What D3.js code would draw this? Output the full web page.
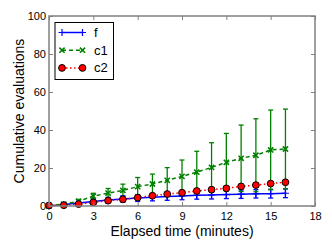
<!DOCTYPE html>
<html>
<head>
<meta charset="utf-8">
<script src="https://cdn.jsdelivr.net/npm/d3@7"></script>
<style>
  body { margin: 0; background: #fff; }
  text { font-family: "Liberation Sans", Arial, sans-serif; fill: #000; }
</style>
</head>
<body>
<div id="chart"></div>
<script>
// elapsed minutes
let minutes = [0, 1, 2, 3, 4, 5, 6, 7, 8, 9, 10, 11, 12, 13, 14, 15, 16];
// series means and error half-widths
let f_mean = [0, 0.8, 1.6, 2.4, 3.1, 3.7, 4.2, 4.6, 5.0, 5.3, 5.6, 5.8, 6.0, 6.2, 6.4, 6.5, 6.7];
let f_err = [0, 0.6, 1.0, 1.3, 1.5, 1.7, 1.8, 1.9, 2.0, 2.0, 2.0, 2.1, 2.1, 2.2, 2.2, 2.3, 2.3];
let c1_mean = [0, 1.0, 2.5, 5.2, 6.8, 8.2, 10.2, 11.6, 13.5, 15.6, 17.8, 20.3, 23.0, 25.1, 26.7, 29.5, 30.0];
let c1_err = [0, 0.5, 1.0, 1.5, 2.4, 3.3, 4.8, 5.2, 6.7, 8.6, 11.0, 13.0, 15.2, 17.5, 19.2, 21.0, 21.0];
let c2_mean = [0.3, 0.4, 1.0, 1.9, 2.8, 3.5, 4.4, 5.4, 6.3, 7.0, 7.9, 8.6, 9.3, 10.3, 11.0, 11.8, 12.5];
let c2_err = [0, 0.2, 0.3, 0.4, 0.5, 0.5, 0.6, 0.6, 0.7, 0.7, 0.8, 0.8, 0.9, 0.9, 1.0, 1.0, 1.1];
let x_ticks = [0, 3, 6, 9, 12, 15, 18];
let y_ticks = [0, 20, 40, 60, 80, 100];

let chart_width = 332;
let chart_height = 249;
let margin = { top: 16, right: 17, bottom: 43, left: 49 };
let w = chart_width - margin.left - margin.right;
let h = chart_height - margin.top - margin.bottom;

let svg = d3.select("#chart").append("svg")
  .attr("width", chart_width)
  .attr("height", chart_height);

let g = svg.append("g").attr("transform", "translate(" + margin.left + "," + margin.top + ")");

let x_scale = d3.scaleLinear().domain([0, 18]).range([0, w]);
let y_scale = d3.scaleLinear().domain([0, 100]).range([h, 0]);

// series definitions
let series = [
  { name: "f", mean: f_mean, err: f_err, color: "#0000ff", dash: null, marker: "plus" },
  { name: "c1", mean: c1_mean, err: c1_err, color: "#008000", dash: "4,3", marker: "x" },
  { name: "c2", mean: c2_mean, err: c2_err, color: "#ff0000", dash: "1.5,2.5", marker: "circle" }
];

function drawMarker(sel, s, x, y) {
  if (s.marker == "plus") {
    sel.append("path")
      .attr("d", "M" + (x - 3.5) + "," + y + "h7M" + x + "," + (y - 3.5) + "v7")
      .attr("stroke", s.color).attr("stroke-width", 1.2).attr("fill", "none");
  } else if (s.marker == "x") {
    sel.append("path")
      .attr("d", "M" + (x - 2.6) + "," + (y - 2.6) + "l5.2,5.2M" + (x - 2.6) + "," + (y + 2.6) + "l5.2,-5.2")
      .attr("stroke", s.color).attr("stroke-width", 1.6).attr("fill", "none");
  } else {
    sel.append("circle")
      .attr("cx", x).attr("cy", y).attr("r", 3.4)
      .attr("fill", s.color).attr("stroke", "#000").attr("stroke-width", 1);
  }
}

series.forEach(function (s) {
  let sg = g.append("g");
  // error bars
  minutes.forEach(function (m, i) {
    let x = x_scale(m);
    let y0 = y_scale(s.mean[i] - s.err[i]);
    let y1 = y_scale(s.mean[i] + s.err[i]);
    sg.append("line").attr("x1", x).attr("x2", x).attr("y1", y0).attr("y2", y1)
      .attr("stroke", s.color).attr("stroke-width", 1.3);
    [y0, y1].forEach(function (yy) {
      sg.append("line").attr("x1", x - 2.5).attr("x2", x + 2.5).attr("y1", yy).attr("y2", yy)
        .attr("stroke", s.color).attr("stroke-width", 1.3);
    });
  });
  // line
  let line = d3.line()
    .x(function (d, i) { return x_scale(minutes[i]); })
    .y(function (d) { return y_scale(d); });
  sg.append("path")
    .datum(s.mean)
    .attr("d", line)
    .attr("fill", "none")
    .attr("stroke", s.color)
    .attr("stroke-width", 1.5)
    .attr("stroke-dasharray", s.dash);
  // markers
  minutes.forEach(function (m, i) {
    drawMarker(sg, s, x_scale(m), y_scale(s.mean[i]));
  });
});

// frame
g.append("rect").attr("width", w).attr("height", h)
  .attr("fill", "none").attr("stroke", "#808080").attr("stroke-width", 1.5);

// axes, ticks inward
let x_axis = d3.axisBottom(x_scale).tickValues(x_ticks).tickSizeInner(-4).tickSizeOuter(0).tickPadding(6);
let y_axis = d3.axisLeft(y_scale).tickValues(y_ticks).tickSizeInner(-4).tickSizeOuter(0).tickPadding(3);

let gx = g.append("g").attr("transform", "translate(0," + h + ")").call(x_axis);
let gy = g.append("g").call(y_axis);
let gx2 = g.append("g").call(d3.axisTop(x_scale).tickValues(x_ticks).tickSizeInner(-4).tickSizeOuter(0).tickFormat(""));
let gy2 = g.append("g").attr("transform", "translate(" + w + ",0)")
  .call(d3.axisRight(y_scale).tickValues(y_ticks).tickSizeInner(-4).tickSizeOuter(0).tickFormat(""));

[gx, gy, gx2, gy2].forEach(function (a) {
  a.select(".domain").remove();
  a.selectAll(".tick line").attr("stroke", "#808080").attr("stroke-width", 1);
  a.selectAll("text").attr("font-size", 11).attr("font-family", "Liberation Sans, Arial, sans-serif").attr("fill", "#000");
});

// axis labels
svg.append("text")
  .attr("x", margin.left + w / 2).attr("y", 236)
  .attr("text-anchor", "middle").attr("font-size", 14)
  .text("Elapsed time (minutes)");
svg.append("text")
  .attr("transform", "translate(24," + (margin.top + h / 2) + ") rotate(-90)")
  .attr("text-anchor", "middle").attr("font-size", 14)
  .text("Cumulative evaluations");

// legend
let lg = svg.append("g");
lg.append("rect").attr("x", 55).attr("y", 22.5).attr("width", 58.5).attr("height", 57)
  .attr("fill", "#fff").attr("stroke", "#000").attr("stroke-width", 1);
series.forEach(function (s, i) {
  let y = 32.5 + i * 17.7;
  lg.append("line").attr("x1", 62).attr("x2", 82.5).attr("y1", y).attr("y2", y)
    .attr("stroke", s.color).attr("stroke-width", 1.5).attr("stroke-dasharray", s.dash);
  drawMarker(lg, s, 62, y);
  drawMarker(lg, s, 82.5, y);
  lg.append("text").attr("x", 94).attr("y", y + 4.5).attr("font-size", 13).text(s.name);
});
</script>
</body>
</html>
